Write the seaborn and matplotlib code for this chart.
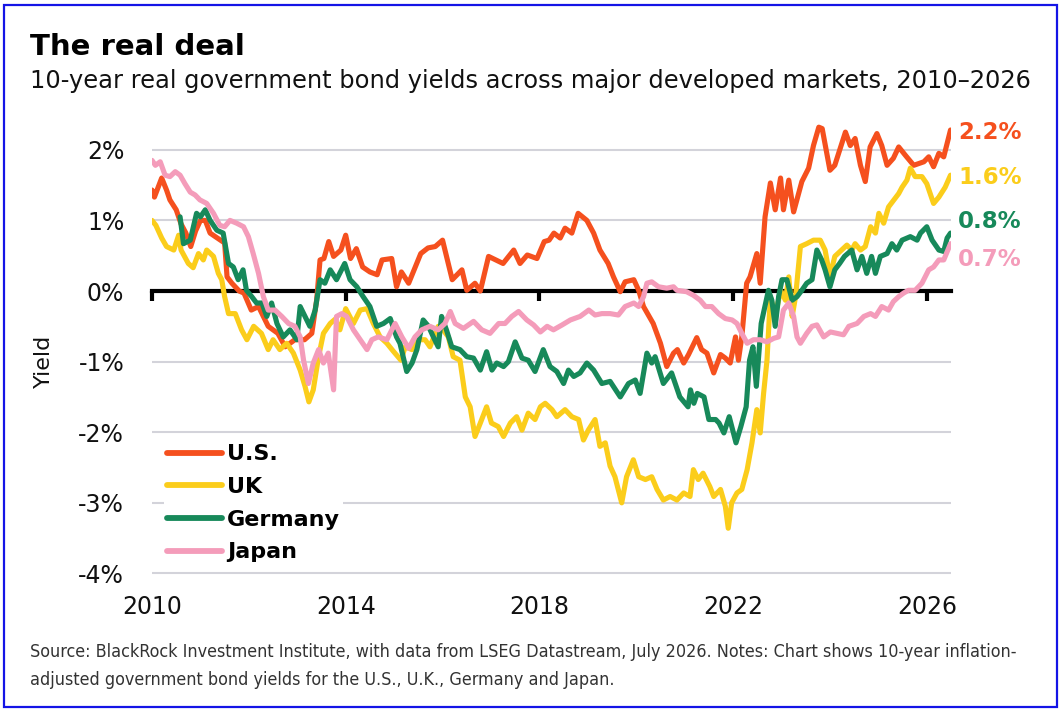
import matplotlib
matplotlib.use("Agg")
import matplotlib.pyplot as plt
from matplotlib.patches import Rectangle
from matplotlib import font_manager
import numpy as np
import pandas as pd
import seaborn as sns

# ---------------- data (decimal years, % yield) ----------------
countries = ["U.S.", "UK", "Germany", "Japan"]
colors = ["#F5501E", "#FBCD1B", "#17895A", "#F49CBA"]
end_labels = ["2.2%", "1.6%", "0.8%", "0.7%"]
x_ticks = [2010, 2014, 2018, 2022, 2026]
y_ticks = [-4, -3, -2, -1, 0, 1, 2]

us_t = [2010.0, 2010.05, 2010.2, 2010.3, 2010.37, 2010.5, 2010.6, 2010.7, 2010.8, 2010.9, 2011.0, 2011.1,
        2011.2, 2011.35, 2011.5, 2011.55, 2011.65, 2011.8, 2011.9, 2012.05, 2012.2, 2012.4, 2012.6, 2012.75,
        2012.95, 2013.15, 2013.3, 2013.4, 2013.47, 2013.55, 2013.65, 2013.75, 2013.9, 2014.0, 2014.1, 2014.22,
        2014.35, 2014.5, 2014.65, 2014.75, 2014.95, 2015.05, 2015.15, 2015.3, 2015.55, 2015.7, 2015.85, 2016.0,
        2016.2, 2016.4, 2016.5, 2016.67, 2016.78, 2016.95, 2017.1, 2017.25, 2017.47, 2017.6, 2017.75, 2017.95,
        2018.1, 2018.2, 2018.3, 2018.43, 2018.53, 2018.67, 2018.8, 2018.98, 2019.12, 2019.25, 2019.42, 2019.53,
        2019.67, 2019.77, 2019.95, 2020.05, 2020.15, 2020.35, 2020.5, 2020.63, 2020.77, 2020.85, 2020.98, 2021.08,
        2021.25, 2021.35, 2021.46, 2021.6, 2021.74, 2021.84, 2021.94, 2022.05, 2022.11, 2022.18, 2022.28, 2022.35,
        2022.49, 2022.56, 2022.66, 2022.77, 2022.87, 2022.98, 2023.04, 2023.15, 2023.25, 2023.42, 2023.56, 2023.66,
        2023.77, 2023.84, 2024.0, 2024.1, 2024.32, 2024.42, 2024.52, 2024.63, 2024.73, 2024.83, 2024.97, 2025.07,
        2025.18, 2025.31, 2025.42, 2025.56, 2025.73, 2025.94, 2026.04, 2026.14, 2026.25, 2026.35, 2026.49]
us_y = [1.43, 1.33, 1.6, 1.43, 1.29, 1.15, 0.95, 0.82, 0.63, 0.85, 1.0, 1.0,
        0.82, 0.75, 0.68, 0.2, 0.11, 0.0, -0.03, -0.27, -0.22, -0.5, -0.6, -0.79,
        -0.69, -0.69, -0.6, -0.13, 0.44, 0.46, 0.7, 0.49, 0.58, 0.79, 0.46, 0.6,
        0.34, 0.27, 0.23, 0.44, 0.46, 0.06, 0.27, 0.11, 0.53, 0.61, 0.63, 0.72,
        0.16, 0.3, 0.01, 0.11, 0.0, 0.49, 0.44, 0.39, 0.58, 0.39, 0.51, 0.46,
        0.7, 0.72, 0.82, 0.75, 0.89, 0.82, 1.1, 1.0, 0.82, 0.58, 0.39, 0.2,
        -0.01, 0.13, 0.16, 0.01, -0.22, -0.46, -0.74, -1.07, -0.88, -0.83, -1.02, -0.9,
        -0.66, -0.83, -0.88, -1.16, -0.9, -0.95, -1.02, -0.65, -0.98, -0.65, 0.11, 0.2,
        0.53, 0.11, 1.05, 1.53, 1.15, 1.6, 1.15, 1.57, 1.12, 1.55, 1.74, 2.06,
        2.32, 2.3, 1.71, 1.78, 2.25, 2.06, 2.16, 1.78, 1.55, 2.04, 2.23, 2.06,
        1.78, 1.88, 2.04, 1.92, 1.78, 1.83, 1.9, 1.76, 1.95, 1.9, 2.28]

uk_t = [2010.0, 2010.08, 2010.2, 2010.3, 2010.45, 2010.55, 2010.6, 2010.75, 2010.85, 2010.96, 2011.06, 2011.13,
        2011.27, 2011.37, 2011.44, 2011.5, 2011.58, 2011.72, 2011.85, 2011.96, 2012.1, 2012.26, 2012.4, 2012.5,
        2012.64, 2012.78, 2012.92, 2013.06, 2013.16, 2013.24, 2013.33, 2013.44, 2013.54, 2013.68, 2013.78, 2013.88,
        2014.0, 2014.16, 2014.3, 2014.44, 2014.57, 2014.71, 2014.85, 2014.98, 2015.14, 2015.23, 2015.37, 2015.5,
        2015.64, 2015.74, 2015.91, 2016.01, 2016.12, 2016.22, 2016.36, 2016.47, 2016.57, 2016.67, 2016.78, 2016.91,
        2017.01, 2017.15, 2017.26, 2017.4, 2017.53, 2017.64, 2017.77, 2017.91, 2018.02, 2018.12, 2018.26, 2018.36,
        2018.53, 2018.67, 2018.81, 2018.91, 2019.01, 2019.15, 2019.25, 2019.36, 2019.46, 2019.56, 2019.7, 2019.8,
        2019.94, 2020.05, 2020.19, 2020.32, 2020.43, 2020.56, 2020.7, 2020.84, 2020.98, 2021.11, 2021.18, 2021.28,
        2021.38, 2021.52, 2021.6, 2021.74, 2021.84, 2021.9, 2021.97, 2022.08, 2022.18, 2022.29, 2022.39, 2022.49,
        2022.56, 2022.63, 2022.7, 2022.77, 2022.87, 2022.98, 2023.08, 2023.15, 2023.22, 2023.29, 2023.39, 2023.52,
        2023.66, 2023.8, 2023.9, 2024.0, 2024.1, 2024.24, 2024.35, 2024.45, 2024.52, 2024.63, 2024.73, 2024.84,
        2024.94, 2025.01, 2025.11, 2025.21, 2025.32, 2025.42, 2025.49, 2025.59, 2025.66, 2025.76, 2025.9, 2026.0,
        2026.14, 2026.25, 2026.38, 2026.49]
uk_y = [1.0, 0.93, 0.75, 0.63, 0.58, 0.79, 0.58, 0.39, 0.33, 0.53, 0.44, 0.58,
        0.49, 0.25, 0.16, -0.08, -0.32, -0.32, -0.55, -0.69, -0.5, -0.6, -0.83, -0.69,
        -0.83, -0.74, -0.88, -1.12, -1.35, -1.57, -1.4, -0.93, -0.6, -0.46, -0.4, -0.55,
        -0.25, -0.46, -0.27, -0.25, -0.46, -0.65, -0.74, -0.85, -0.98, -0.79, -0.83, -0.69,
        -0.69, -0.79, -0.5, -0.55, -0.65, -0.93, -0.98, -1.5, -1.64, -2.06, -1.87, -1.64,
        -1.87, -1.92, -2.06, -1.87, -1.78, -1.97, -1.73, -1.82, -1.64, -1.59, -1.68, -1.78,
        -1.68, -1.78, -1.82, -2.11, -1.97, -1.82, -2.2, -2.15, -2.48, -2.63, -3.0, -2.63,
        -2.39, -2.63, -2.67, -2.63, -2.81, -2.96, -2.91, -2.96, -2.86, -2.91, -2.53, -2.67,
        -2.58, -2.77, -2.91, -2.81, -3.05, -3.36, -3.0, -2.86, -2.81, -2.53, -2.15, -1.68,
        -2.01, -1.45, -0.98, -0.08, -0.36, 0.01, -0.13, 0.2, -0.36, -0.08, 0.63, 0.67,
        0.72, 0.72, 0.58, 0.2, 0.49, 0.58, 0.65, 0.58, 0.67, 0.58, 0.63, 0.91,
        0.82, 1.1, 0.96, 1.19, 1.29, 1.38, 1.47, 1.57, 1.74, 1.62, 1.62, 1.52,
        1.24, 1.33, 1.47, 1.64]

de_t = [2010.58, 2010.65, 2010.79, 2010.92, 2011.0, 2011.1, 2011.2, 2011.34, 2011.47, 2011.58, 2011.68, 2011.78,
        2011.88, 2011.95, 2012.06, 2012.16, 2012.27, 2012.37, 2012.47, 2012.58, 2012.71, 2012.85, 2012.99, 2013.06,
        2013.16, 2013.26, 2013.37, 2013.47, 2013.57, 2013.68, 2013.81, 2013.98, 2014.09, 2014.23, 2014.36, 2014.5,
        2014.64, 2014.78, 2014.92, 2015.05, 2015.12, 2015.26, 2015.37, 2015.47, 2015.6, 2015.71, 2015.81, 2015.91,
        2015.98, 2016.08, 2016.19, 2016.36, 2016.5, 2016.64, 2016.78, 2016.91, 2017.02, 2017.12, 2017.26, 2017.36,
        2017.5, 2017.64, 2017.77, 2017.91, 2018.08, 2018.22, 2018.36, 2018.5, 2018.6, 2018.71, 2018.84, 2018.98,
        2019.12, 2019.29, 2019.46, 2019.67, 2019.84, 2019.98, 2020.08, 2020.22, 2020.32, 2020.39, 2020.56, 2020.73,
        2020.9, 2021.07, 2021.12, 2021.19, 2021.26, 2021.4, 2021.5, 2021.64, 2021.71, 2021.81, 2021.92, 2022.06,
        2022.16, 2022.27, 2022.34, 2022.41, 2022.48, 2022.58, 2022.73, 2022.8, 2022.87, 2022.94, 2023.01, 2023.11,
        2023.22, 2023.32, 2023.42, 2023.52, 2023.63, 2023.73, 2023.83, 2023.9, 2024.0, 2024.1, 2024.2, 2024.3,
        2024.45, 2024.56, 2024.66, 2024.76, 2024.86, 2024.94, 2025.04, 2025.18, 2025.28, 2025.38, 2025.49, 2025.66,
        2025.8, 2025.87, 2026.0, 2026.11, 2026.25, 2026.35, 2026.42, 2026.49]
de_y = [1.05, 0.67, 0.72, 1.1, 1.05, 1.15, 1.0, 0.86, 0.82, 0.39, 0.34, 0.16,
        0.3, 0.01, -0.08, -0.17, -0.17, -0.36, -0.17, -0.46, -0.65, -0.55, -0.69, -0.22,
        -0.36, -0.5, -0.27, 0.16, 0.11, 0.3, 0.16, 0.39, 0.16, 0.06, -0.08, -0.22,
        -0.5, -0.46, -0.39, -0.65, -0.74, -1.14, -1.02, -0.83, -0.41, -0.5, -0.65, -0.79,
        -0.36, -0.55, -0.79, -0.83, -0.93, -0.95, -1.12, -0.86, -1.12, -1.02, -1.07, -1.0,
        -0.72, -0.95, -0.98, -1.14, -0.83, -1.07, -1.14, -1.31, -1.12, -1.21, -1.16, -1.02,
        -1.12, -1.31, -1.28, -1.5, -1.31, -1.26, -1.45, -0.88, -1.02, -0.93, -1.31, -1.16,
        -1.5, -1.64, -1.4, -1.59, -1.45, -1.5, -1.82, -1.82, -1.87, -2.01, -1.78, -2.15,
        -1.92, -1.64, -0.98, -0.79, -1.35, -0.46, 0.01, -0.13, -0.5, -0.08, 0.16, 0.16,
        -0.13, -0.08, 0.01, 0.11, 0.16, 0.58, 0.44, 0.3, 0.06, 0.3, 0.39, 0.49,
        0.58, 0.3, 0.49, 0.25, 0.49, 0.25, 0.49, 0.53, 0.67, 0.58, 0.72, 0.77,
        0.72, 0.82, 0.91, 0.72, 0.58, 0.56, 0.75, 0.82]

jp_t = [2010.0, 2010.07, 2010.17, 2010.27, 2010.37, 2010.48, 2010.58, 2010.68, 2010.79, 2010.89, 2010.99, 2011.13,
        2011.27, 2011.4, 2011.5, 2011.61, 2011.75, 2011.89, 2011.99, 2012.09, 2012.2, 2012.3, 2012.4, 2012.54,
        2012.68, 2012.82, 2012.95, 2013.06, 2013.13, 2013.23, 2013.33, 2013.44, 2013.54, 2013.64, 2013.75, 2013.81,
        2013.92, 2014.02, 2014.16, 2014.3, 2014.44, 2014.54, 2014.67, 2014.85, 2015.02, 2015.16, 2015.3, 2015.43,
        2015.57, 2015.74, 2015.91, 2016.05, 2016.16, 2016.26, 2016.43, 2016.64, 2016.81, 2016.98, 2017.16, 2017.29,
        2017.43, 2017.57, 2017.74, 2017.88, 2018.02, 2018.16, 2018.29, 2018.47, 2018.64, 2018.84, 2019.02, 2019.15,
        2019.29, 2019.46, 2019.63, 2019.77, 2019.95, 2020.05, 2020.15, 2020.22, 2020.32, 2020.46, 2020.63, 2020.77,
        2020.84, 2021.04, 2021.18, 2021.32, 2021.43, 2021.56, 2021.7, 2021.84, 2021.98, 2022.08, 2022.18, 2022.29,
        2022.42, 2022.56, 2022.7, 2022.84, 2022.94, 2023.04, 2023.15, 2023.25, 2023.32, 2023.39, 2023.52, 2023.63,
        2023.73, 2023.87, 2024.01, 2024.15, 2024.28, 2024.39, 2024.56, 2024.7, 2024.84, 2024.94, 2025.07, 2025.21,
        2025.31, 2025.42, 2025.52, 2025.62, 2025.76, 2025.9, 2026.04, 2026.14, 2026.25, 2026.35, 2026.49]
jp_y = [1.85, 1.78, 1.83, 1.64, 1.62, 1.69, 1.64, 1.52, 1.4, 1.36, 1.29, 1.24,
        1.1, 0.93, 0.91, 1.0, 0.96, 0.91, 0.77, 0.53, 0.25, -0.08, -0.27, -0.27,
        -0.36, -0.46, -0.5, -0.65, -0.98, -1.31, -1.02, -0.83, -1.02, -0.88, -1.4, -0.36,
        -0.32, -0.36, -0.55, -0.69, -0.83, -0.69, -0.65, -0.69, -0.46, -0.65, -0.81, -0.65,
        -0.55, -0.5, -0.55, -0.46, -0.29, -0.46, -0.53, -0.43, -0.55, -0.6, -0.46, -0.46,
        -0.36, -0.29, -0.41, -0.48, -0.58, -0.5, -0.55, -0.48, -0.41, -0.36, -0.27, -0.34,
        -0.32, -0.32, -0.34, -0.22, -0.17, -0.22, -0.08, 0.11, 0.13, 0.06, 0.04, 0.06,
        0.01, -0.01, -0.06, -0.13, -0.22, -0.22, -0.32, -0.39, -0.41, -0.46, -0.6, -0.74,
        -0.69, -0.69, -0.72, -0.67, -0.65, -0.27, -0.17, -0.36, -0.65, -0.74, -0.6, -0.5,
        -0.48, -0.65, -0.58, -0.6, -0.62, -0.5, -0.46, -0.36, -0.32, -0.36, -0.22, -0.27,
        -0.15, -0.08, -0.03, 0.01, 0.01, 0.11, 0.3, 0.34, 0.44, 0.44, 0.67]

series_t = [us_t, uk_t, de_t, jp_t]
series_y = [us_y, uk_y, de_y, jp_y]
df = pd.concat([pd.DataFrame({"year": t, "value": v, "country": c})
                for t, v, c in zip(series_t, series_y, countries)], ignore_index=True)

# ---------------- style ----------------
sns.set_theme(style="white")
MAIN = ["DejaVu Sans"]
plt.rcParams["font.family"] = MAIN
plt.rcParams["text.color"] = "#111111"
plt.rcParams["axes.labelcolor"] = "#111111"

# narrow font for the footnote, if one is installed
narrow_fp = None
for f in font_manager.fontManager.ttflist:
    nm = (f.name + " " + f.fname).lower()
    if ("narrow" in nm or "condensed" in nm or str(f.stretch) in ("condensed", "semi-condensed")) \
            and f.weight in (400, "normal", "regular") and f.style == "normal" \
            and ("sans" in nm or "roboto" in nm or "lato" in nm or "inter" in nm):
        narrow_fp = font_manager.FontProperties(fname=f.fname)
        break
if narrow_fp is None:
    narrow_fp = font_manager.FontProperties(family=["Roboto", "DejaVu Sans"])

W, H = 1063, 715
fig = plt.figure(figsize=(W / 100, H / 100), dpi=100)
ax = fig.add_axes([152 / W, 1 - 577 / H, (951 - 152) / W, (577 - 118) / H])
ylim = (-4.05, 2.45)

# grid lines
for v in y_ticks:
    if v != 0:
        ax.axhline(v, color="#D3D3DA", lw=1.5, zorder=0)

sns.lineplot(data=df, x="year", y="value", hue="country", hue_order=countries,
             palette=colors, sort=False, estimator=None, lw=3.7, ax=ax,
             solid_joinstyle="round", solid_capstyle="round", zorder=3)

ax.set_xlim(2010, 2026.5)
ax.set_ylim(*ylim)
for s in ax.spines.values():
    s.set_visible(False)

ax.set_yticks(y_ticks)
ax.set_yticklabels([f"{v}%" for v in y_ticks])
ax.set_xticks(x_ticks)
ax.set_xticklabels([str(v) for v in x_ticks])
ax.tick_params(axis="y", length=0, pad=20, labelsize=17, labelcolor="#111111")
ax.tick_params(axis="x", length=0, pad=13, labelsize=17, labelcolor="#111111")
ax.set_xlabel("")
ax.set_ylabel("Yield", fontsize=16, color="#111111")
ax.yaxis.set_label_coords(-0.123, 0.47)

# zero line with ticks
frac0 = (0 - ylim[0]) / (ylim[1] - ylim[0])
sec = ax.secondary_xaxis(frac0)
sec.set_alignment("bottom")
sec.set_xticks(x_ticks)
sec.set_xticklabels([])
sec.tick_params(length=7, width=3, color="black", direction="out")
sec.spines["bottom"].set_visible(True)
sec.spines["bottom"].set_linewidth(3)
sec.spines["bottom"].set_color("black")
sec.spines["top"].set_visible(False)

# legend
handles, labels = ax.get_legend_handles_labels()
leg = ax.legend(handles, labels, loc="upper left", bbox_to_anchor=(153 / W, 1 - 430 / H),
                bbox_transform=fig.transFigure, frameon=True, facecolor="white",
                edgecolor="none", framealpha=1, fancybox=False, borderpad=0.15,
                handlelength=2.45, handletextpad=0.22, labelspacing=0.57,
                prop={"family": MAIN, "weight": "bold", "size": 16})
for h in leg.get_lines():
    h.set_linewidth(4.2)
    h.set_solid_capstyle("round")
for t in leg.get_texts():
    t.set_color("black")
leg.set_zorder(5)

# end labels
label_y = [2.24, 1.61, 0.99, 0.45]
for txt, col, ly in zip(end_labels, colors, label_y):
    ax.text(2026.65, ly, txt, color=col, fontsize=16.5, fontweight="bold",
            va="center", ha="left", clip_on=False, family=MAIN)

# titles
fig.text(30 / W, 1 - 55 / H, "The real deal", fontsize=21, fontweight="bold",
         color="black", va="baseline", ha="left", family=MAIN)
sub = fig.text(30 / W, 1 - 88 / H,
               "10-year real government bond yields across major developed markets, 2010\u20132026",
               fontsize=16.5, color="#111111", va="baseline", ha="left", family=MAIN)

note1 = fig.text(30 / W, 1 - 657 / H,
                 "Source: BlackRock Investment Institute, with data from LSEG Datastream, July 2026. Notes: Chart shows 10-year inflation-",
                 fontproperties=narrow_fp, fontsize=14, color="#333333", va="baseline", ha="left")
note2 = fig.text(30 / W, 1 - 685 / H,
                 "adjusted government bond yields for the U.S., U.K., Germany and Japan.",
                 fontproperties=narrow_fp, fontsize=14, color="#333333", va="baseline", ha="left")

# fit text widths to the reference layout
fig.canvas.draw()
r = fig.canvas.get_renderer()
def fit(t, target_px):
    w = t.get_window_extent(r).width
    t.set_fontsize(t.get_fontsize() * target_px / w)
fit(sub, 1000)
fit(note1, 990)
note2.set_fontsize(note1.get_fontsize())

# blue frame
fig.patches.append(Rectangle((4 / W, 1 - 707 / H), 1053 / W, 702 / H, transform=fig.transFigure,
                             fill=False, edgecolor="#1414E6", lw=1.6))

fig.savefig("out.png", dpi=100, facecolor="white")
